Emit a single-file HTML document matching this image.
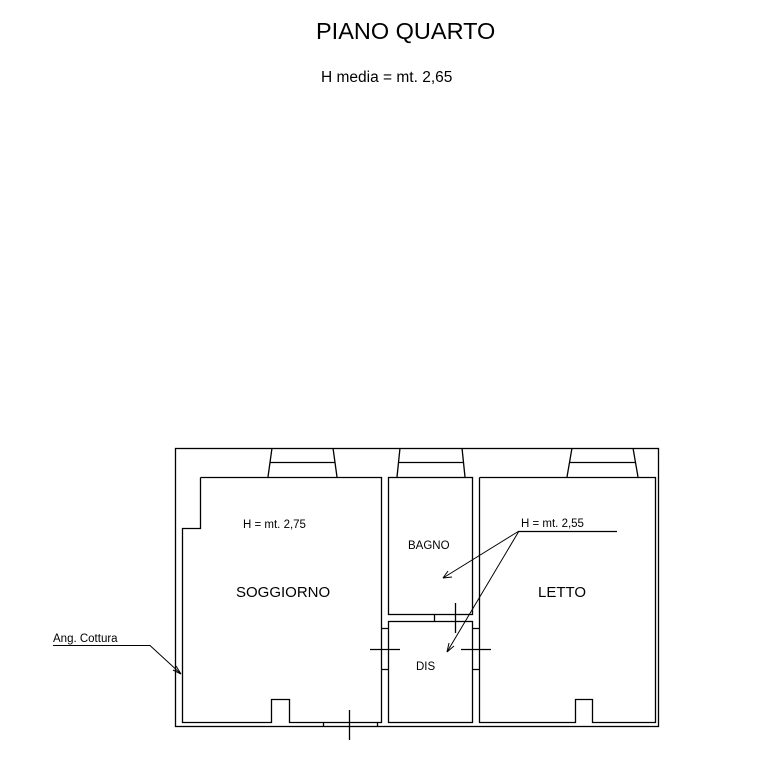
<!DOCTYPE html>
<html><head><style>
html,body{margin:0;padding:0;background:#fff;}
svg{display:block;}
text{font-family:"Liberation Sans",sans-serif;fill:#000;}
</style></head><body>
<svg width="776" height="772" viewBox="0 0 776 772" xmlns="http://www.w3.org/2000/svg">
<text x="316" y="39" font-size="23.5">PIANO QUARTO</text>
<text x="321" y="82" font-size="15.5">H media = mt. 2,65</text>
<g fill="none" stroke="#000" stroke-width="1.3">
<rect x="175.5" y="448.5" width="483" height="278"/>
<polyline points="200.5,477.5 381.5,477.5 381.5,722.5 289.5,722.5 289.5,699.5 271.5,699.5 271.5,722.5 182.5,722.5 182.5,528.5 200.5,528.5 200.5,477.5"/>
<rect x="388.5" y="477.5" width="84" height="137"/>
<rect x="388.5" y="621.5" width="84" height="101"/>
<polyline points="479.5,477.5 655.5,477.5 655.5,722.5 592.5,722.5 592.5,699.5 575.5,699.5 575.5,722.5 479.5,722.5 479.5,477.5"/>
<path d="M272,448 L268,477 M333,448 L337,477 M270,462.5 H335"/>
<path d="M400,448 L397,477 M462,448 L465,477 M398,462.5 H464"/>
<path d="M572,448 L567,477 M633,448 L638,477 M570,462.5 H636"/>
<path d="M382,628.5 H388 M382,669.5 H388 M473,628.5 H479 M473,669.5 H479 M434.5,615 V621 M323.5,723 V727 M377.5,723 V727"/>
<path d="M370,649.5 H400 M461,649.5 H491 M455.5,603 V633 M349.5,710 V740"/>
<path d="M519,531.5 H617"/>
<path d="M519,531 L443,578 M519,531 L447,652" stroke-width="1"/>
<path d="M443,578 L452,577 M443,578 L448,571 M447,652 L449,643 M447,652 L454,646" stroke-width="1"/>
<path d="M53,645.5 H150 L181,674" stroke-width="1"/>
<path d="M181,674 L173,670 M181,674 L176,666" stroke-width="1"/>
</g>
<text x="243" y="528" font-size="11.5">H = mt. 2,75</text>
<text x="521" y="527" font-size="11.5">H = mt. 2,55</text>
<text x="408" y="549" font-size="11.5">BAGNO</text>
<text x="416" y="670" font-size="11.5">DIS</text>
<text x="236" y="597" font-size="15">SOGGIORNO</text>
<text x="538" y="597" font-size="15">LETTO</text>
<text x="53" y="642" font-size="11.5">Ang. Cottura</text>
</svg>
</body></html>
